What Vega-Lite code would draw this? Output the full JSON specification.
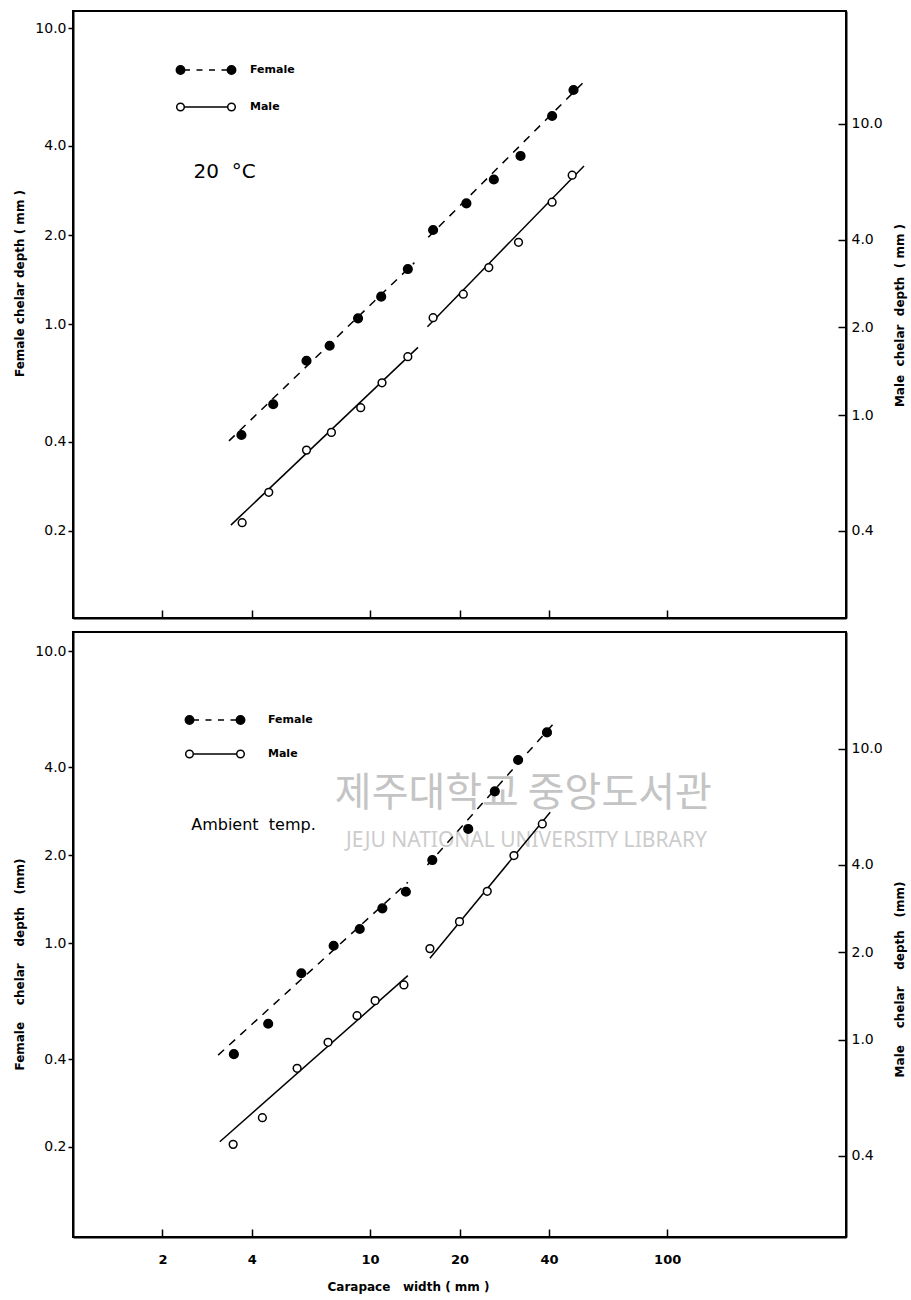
{
  "$schema": "https://vega.github.io/schema/vega-lite/v6.json",
  "background": "white",
  "padding": {"left": 12, "top": 10, "right": 5, "bottom": 5},
  "spacing": 11,
  "config": {
    "font": "DejaVu Sans",
    "view": {"stroke": "black", "strokeWidth": 2},
    "axis": {
      "grid": false,
      "domainColor": "black",
      "domainWidth": 2,
      "tickColor": "black",
      "tickWidth": 1.5,
      "labelColor": "black",
      "titleColor": "black",
      "labelFont": "DejaVu Sans",
      "titleFont": "DejaVu Sans"
    },
    "legend": {
      "labelFont": "DejaVu Sans",
      "labelFontWeight": "bold",
      "labelFontSize": 11,
      "labelColor": "black",
      "symbolStrokeColor": "black",
      "symbolStrokeWidth": 1.5,
      "symbolSize": 400,
      "padding": 0
    }
  },
  "datasets": {
    "points20": [
      {"sex": "Female", "cw": 3.69, "depth": 0.422},
      {"sex": "Female", "cw": 4.72, "depth": 0.536},
      {"sex": "Female", "cw": 6.11, "depth": 0.752},
      {"sex": "Female", "cw": 7.31, "depth": 0.845},
      {"sex": "Female", "cw": 9.11, "depth": 1.046},
      {"sex": "Female", "cw": 10.9, "depth": 1.238},
      {"sex": "Female", "cw": 13.4, "depth": 1.535},
      {"sex": "Female", "cw": 16.3, "depth": 2.08},
      {"sex": "Female", "cw": 21.1, "depth": 2.56},
      {"sex": "Female", "cw": 26.1, "depth": 3.08},
      {"sex": "Female", "cw": 32.1, "depth": 3.70},
      {"sex": "Female", "cw": 41.0, "depth": 5.05},
      {"sex": "Female", "cw": 48.4, "depth": 6.18},
      {"sex": "Male", "cw": 3.71, "depth": 0.427},
      {"sex": "Male", "cw": 4.56, "depth": 0.543},
      {"sex": "Male", "cw": 6.11, "depth": 0.758},
      {"sex": "Male", "cw": 7.41, "depth": 0.872},
      {"sex": "Male", "cw": 9.30, "depth": 1.06},
      {"sex": "Male", "cw": 10.97, "depth": 1.29},
      {"sex": "Male", "cw": 13.4, "depth": 1.586},
      {"sex": "Male", "cw": 16.3, "depth": 2.16},
      {"sex": "Male", "cw": 20.6, "depth": 2.60},
      {"sex": "Male", "cw": 25.1, "depth": 3.21},
      {"sex": "Male", "cw": 31.6, "depth": 3.92},
      {"sex": "Male", "cw": 41.0, "depth": 5.38},
      {"sex": "Male", "cw": 47.9, "depth": 6.66}
    ],
    "lines20": [
      {"sex": "Female", "stage": "juvenile", "cw": 3.35, "depth": 0.403},
      {"sex": "Female", "stage": "juvenile", "cw": 14.1, "depth": 1.613},
      {"sex": "Female", "stage": "adult", "cw": 15.7, "depth": 1.965},
      {"sex": "Female", "stage": "adult", "cw": 52.1, "depth": 6.54},
      {"sex": "Male", "stage": "juvenile", "cw": 3.40, "depth": 0.419},
      {"sex": "Male", "stage": "juvenile", "cw": 14.5, "depth": 1.708},
      {"sex": "Male", "stage": "adult", "cw": 15.6, "depth": 2.01},
      {"sex": "Male", "stage": "adult", "cw": 52.5, "depth": 7.17}
    ],
    "pointsAmb": [
      {"sex": "Female", "cw": 3.48, "depth": 0.416},
      {"sex": "Female", "cw": 4.54, "depth": 0.529},
      {"sex": "Female", "cw": 5.87, "depth": 0.788},
      {"sex": "Female", "cw": 7.54, "depth": 0.979},
      {"sex": "Female", "cw": 9.23, "depth": 1.117},
      {"sex": "Female", "cw": 11.0, "depth": 1.315},
      {"sex": "Female", "cw": 13.2, "depth": 1.499},
      {"sex": "Female", "cw": 16.2, "depth": 1.925},
      {"sex": "Female", "cw": 21.4, "depth": 2.46},
      {"sex": "Female", "cw": 26.3, "depth": 3.31},
      {"sex": "Female", "cw": 31.5, "depth": 4.24},
      {"sex": "Female", "cw": 39.4, "depth": 5.27},
      {"sex": "Male", "cw": 3.46, "depth": 0.438},
      {"sex": "Male", "cw": 4.34, "depth": 0.541},
      {"sex": "Male", "cw": 5.68, "depth": 0.799},
      {"sex": "Male", "cw": 7.22, "depth": 0.982},
      {"sex": "Male", "cw": 9.04, "depth": 1.212},
      {"sex": "Male", "cw": 10.4, "depth": 1.365},
      {"sex": "Male", "cw": 13.0, "depth": 1.545},
      {"sex": "Male", "cw": 15.9, "depth": 2.06},
      {"sex": "Male", "cw": 20.0, "depth": 2.55},
      {"sex": "Male", "cw": 24.8, "depth": 3.24},
      {"sex": "Male", "cw": 30.5, "depth": 4.30},
      {"sex": "Male", "cw": 38.0, "depth": 5.52}
    ],
    "linesAmb": [
      {"sex": "Female", "stage": "juvenile", "cw": 3.08, "depth": 0.413},
      {"sex": "Female", "stage": "juvenile", "cw": 13.4, "depth": 1.615},
      {"sex": "Female", "stage": "adult", "cw": 15.6, "depth": 1.85},
      {"sex": "Female", "stage": "adult", "cw": 42.1, "depth": 5.75},
      {"sex": "Male", "stage": "juvenile", "cw": 3.12, "depth": 0.447},
      {"sex": "Male", "stage": "juvenile", "cw": 13.4, "depth": 1.663},
      {"sex": "Male", "stage": "adult", "cw": 15.9, "depth": 1.909},
      {"sex": "Male", "stage": "adult", "cw": 40.4, "depth": 6.06}
    ]
  },
  "resolve": {
    "scale": {"fill": "independent", "shape": "independent"},
    "legend": {"fill": "independent", "shape": "independent"}
  },
  "vconcat": [
    {
      "width": 773,
      "height": 607,
      "layer": [
        {
          "layer": [
            {
              "encoding": {
                "x": {
                  "field": "cw", "type": "quantitative",
                  "scale": {"type": "log", "domain": [1, 400], "nice": false},
                  "axis": {"values": [2, 4, 10, 20, 40, 100], "labels": false, "tickSize": -8, "title": null}
                },
                "y": {
                  "field": "depth", "type": "quantitative",
                  "scale": {"type": "log", "domain": [0.1016, 11.43], "nice": false},
                  "axis": {
                    "orient": "left", "values": [0.2, 0.4, 1, 2, 4, 10], "format": ".1f",
                    "tickSize": 5, "labelPadding": 2, "labelFontSize": 14,
                    "title": "Female chelar depth\u00a0( mm )", "titleFontSize": 12, "titleFontWeight": "bold",
                    "titleX": -54, "titleY": 272, "titleAngle": 270, "titleAlign": "center", "titleBaseline": "middle"
                  }
                }
              },
              "layer": [
                {
                  "data": {"name": "lines20"},
                  "transform": [{"filter": "datum.sex === 'Female'"}],
                  "mark": {"type": "line", "color": "black", "strokeWidth": 1.5, "strokeDash": [8, 7]},
                  "encoding": {"detail": {"field": "stage"}}
                },
                {
                  "data": {"name": "points20"},
                  "transform": [{"filter": "datum.sex === 'Female'"}],
                  "mark": {"type": "point", "filled": true, "opacity": 1, "size": 75, "stroke": "black", "strokeWidth": 1.5},
                  "encoding": {
                    "fill": {"field": "sex", "type": "nominal", "scale": {"domain": ["Female", "Male"], "range": ["black", "white"]}}
                  }
                },
                {
                  "data": {"name": "points20"},
                  "transform": [{"filter": "false"}],
                  "mark": {"type": "point", "filled": true, "opacity": 1, "stroke": "black", "strokeWidth": 1.5},
                  "encoding": {
                    "fill": {
                      "field": "sex", "type": "nominal",
                      "scale": {"domain": ["Female", "Male"], "range": ["black", "white"]},
                      "legend": {"orient": "none", "legendX": 122, "legendY": 48, "title": null, "labelOffset": 33, "rowPadding": 18}
                    },
                    "shape": {
                      "field": "sex", "type": "nominal",
                      "scale": {"domain": ["Female", "Male"], "range": [
                        "M-2.97,0A0.42,0.42,0,1,0,-2.13,0A0.42,0.42,0,1,0,-2.97,0ZM2.13,0A0.42,0.42,0,1,0,2.97,0A0.42,0.42,0,1,0,2.13,0ZM-2.13,0L-1.6,0M-0.95,0L-0.35,0M0.3,0L0.9,0M1.55,0L2.13,0",
                        "M-2.93,0A0.38,0.38,0,1,0,-2.17,0A0.38,0.38,0,1,0,-2.93,0ZM2.17,0A0.38,0.38,0,1,0,2.93,0A0.38,0.38,0,1,0,2.17,0ZM-2.17,0L2.17,0"
                      ]},
                      "legend": {"orient": "none", "legendX": 122, "legendY": 48, "title": null, "labelOffset": 33, "rowPadding": 18}
                    }
                  }
                }
              ]
            },
            {
              "data": {"values": [{"note": "20\u00a0\u00a0°C"}]},
              "mark": {"type": "text", "align": "left", "baseline": "middle", "fontSize": 20, "font": "DejaVu Sans", "color": "black"},
              "encoding": {
                "x": {"datum": 2.544, "type": "quantitative", "scale": {"type": "log", "domain": [1, 400], "nice": false}},
                "y": {"datum": 3.27, "type": "quantitative", "scale": {"type": "log", "domain": [0.1016, 11.43], "nice": false}},
                "text": {"field": "note"}
              }
            }
          ]
        },
        {
          "encoding": {
            "x": {"field": "cw", "type": "quantitative", "scale": {"type": "log", "domain": [1, 400], "nice": false}},
            "y": {
              "field": "depth", "type": "quantitative",
              "scale": {"type": "log", "domain": [0.201, 24.4], "nice": false},
              "axis": {
                "orient": "right", "values": [0.4, 1, 2, 4, 10], "format": ".1f",
                "tickSize": -8, "labelPadding": 13, "labelFontSize": 14,
                "title": "Male\u00a0\u00a0chelar\u00a0\u00a0depth\u00a0\u00a0( mm )", "titleFontSize": 12, "titleFontWeight": "bold",
                "titleX": 53, "titleY": 304, "titleAngle": 270, "titleAlign": "center", "titleBaseline": "middle"
              }
            }
          },
          "layer": [
            {
              "data": {"name": "lines20"},
              "transform": [{"filter": "datum.sex === 'Male'"}],
              "mark": {"type": "line", "color": "black", "strokeWidth": 1.5},
              "encoding": {"detail": {"field": "stage"}}
            },
            {
              "data": {"name": "points20"},
              "transform": [{"filter": "datum.sex === 'Male'"}],
              "mark": {"type": "point", "filled": true, "opacity": 1, "size": 60, "stroke": "black", "strokeWidth": 1.5},
              "encoding": {
                "fill": {"field": "sex", "type": "nominal", "scale": {"domain": ["Female", "Male"], "range": ["black", "white"]}}
              }
            }
          ]
        }
      ],
      "resolve": {"scale": {"y": "independent"}, "axis": {"y": "independent"}}
    },
    {
      "width": 773,
      "height": 605,
      "layer": [
        {
          "layer": [
            {
              "data": {"values": [{"mark": "제주대학교 중앙도서관"}]},
              "mark": {"type": "text", "align": "center", "baseline": "middle", "fontSize": 40, "font": "Noto Sans CJK KR", "color": "#c4c4c4"},
              "encoding": {
                "x": {"datum": 32.8, "type": "quantitative", "scale": {"type": "log", "domain": [1, 400], "nice": false}},
                "y": {"datum": 3.24, "type": "quantitative", "scale": {"type": "log", "domain": [0.0983, 11.64], "nice": false}},
                "text": {"field": "mark"}
              }
            },
            {
              "data": {"values": [{"mark": "JEJU NATIONAL UNIVERSITY LIBRARY"}]},
              "mark": {"type": "text", "align": "center", "baseline": "middle", "fontSize": 21, "font": "Noto Sans", "color": "#cccccc"},
              "encoding": {
                "x": {"datum": 33.6, "type": "quantitative", "scale": {"type": "log", "domain": [1, 400], "nice": false}},
                "y": {"datum": 2.236, "type": "quantitative", "scale": {"type": "log", "domain": [0.0983, 11.64], "nice": false}},
                "text": {"field": "mark"}
              }
            },
            {
              "encoding": {
                "x": {
                  "field": "cw", "type": "quantitative",
                  "scale": {"type": "log", "domain": [1, 400], "nice": false},
                  "axis": {
                    "values": [2, 4, 10, 20, 40, 100], "format": "d", "tickSize": -8, "labelPadding": 24,
                    "labelFontSize": 13, "labelFontWeight": "bold",
                    "title": "Carapace\u00a0\u00a0\u00a0width\u00a0(\u00a0mm\u00a0)", "titleFontSize": 12, "titleFontWeight": "bold",
                    "titlePadding": 15, "titleX": 335
                  }
                },
                "y": {
                  "field": "depth", "type": "quantitative",
                  "scale": {"type": "log", "domain": [0.0983, 11.64], "nice": false},
                  "axis": {
                    "orient": "left", "values": [0.2, 0.4, 1, 2, 4, 10], "format": ".1f",
                    "tickSize": 5, "labelPadding": 2, "labelFontSize": 14,
                    "title": "Female\u00a0\u00a0\u00a0\u00a0chelar\u00a0\u00a0\u00a0\u00a0depth\u00a0\u00a0\u00a0(mm)", "titleFontSize": 12, "titleFontWeight": "bold",
                    "titleX": -54, "titleY": 332, "titleAngle": 270, "titleAlign": "center", "titleBaseline": "middle"
                  }
                }
              },
              "layer": [
                {
                  "data": {"name": "linesAmb"},
                  "transform": [{"filter": "datum.sex === 'Female'"}],
                  "mark": {"type": "line", "color": "black", "strokeWidth": 1.5, "strokeDash": [8, 7]},
                  "encoding": {"detail": {"field": "stage"}}
                },
                {
                  "data": {"name": "pointsAmb"},
                  "transform": [{"filter": "datum.sex === 'Female'"}],
                  "mark": {"type": "point", "filled": true, "opacity": 1, "size": 75, "stroke": "black", "strokeWidth": 1.5},
                  "encoding": {
                    "fill": {"field": "sex", "type": "nominal", "scale": {"domain": ["Female", "Male"], "range": ["black", "white"]}}
                  }
                },
                {
                  "data": {"name": "pointsAmb"},
                  "transform": [{"filter": "false"}],
                  "mark": {"type": "point", "filled": true, "opacity": 1, "stroke": "black", "strokeWidth": 1.5},
                  "encoding": {
                    "fill": {
                      "field": "sex", "type": "nominal",
                      "scale": {"domain": ["Female", "Male"], "range": ["black", "white"]},
                      "legend": {"orient": "none", "legendX": 131, "legendY": 77, "title": null, "labelOffset": 42, "rowPadding": 15}
                    },
                    "shape": {
                      "field": "sex", "type": "nominal",
                      "scale": {"domain": ["Female", "Male"], "range": [
                        "M-2.97,0A0.42,0.42,0,1,0,-2.13,0A0.42,0.42,0,1,0,-2.97,0ZM2.13,0A0.42,0.42,0,1,0,2.97,0A0.42,0.42,0,1,0,2.13,0ZM-2.13,0L-1.6,0M-0.95,0L-0.35,0M0.3,0L0.9,0M1.55,0L2.13,0",
                        "M-2.93,0A0.38,0.38,0,1,0,-2.17,0A0.38,0.38,0,1,0,-2.93,0ZM2.17,0A0.38,0.38,0,1,0,2.93,0A0.38,0.38,0,1,0,2.17,0ZM-2.17,0L2.17,0"
                      ]},
                      "legend": {"orient": "none", "legendX": 131, "legendY": 77, "title": null, "labelOffset": 42, "rowPadding": 15}
                    }
                  }
                }
              ]
            },
            {
              "data": {"values": [{"note": "Ambient\u00a0\u00a0temp."}]},
              "mark": {"type": "text", "align": "left", "baseline": "middle", "fontSize": 16, "font": "DejaVu Sans", "color": "black"},
              "encoding": {
                "x": {"datum": 2.5, "type": "quantitative", "scale": {"type": "log", "domain": [1, 400], "nice": false}},
                "y": {"datum": 2.54, "type": "quantitative", "scale": {"type": "log", "domain": [0.0983, 11.64], "nice": false}},
                "text": {"field": "note"}
              }
            }
          ]
        },
        {
          "encoding": {
            "x": {"field": "cw", "type": "quantitative", "scale": {"type": "log", "domain": [1, 400], "nice": false}},
            "y": {
              "field": "depth", "type": "quantitative",
              "scale": {"type": "log", "domain": [0.2105, 25.2], "nice": false},
              "axis": {
                "orient": "right", "values": [0.4, 1, 2, 4, 10], "format": ".1f",
                "tickSize": -8, "labelPadding": 13, "labelFontSize": 14,
                "title": "Male\u00a0\u00a0\u00a0\u00a0chelar\u00a0\u00a0\u00a0\u00a0depth\u00a0\u00a0\u00a0(mm)", "titleFontSize": 12, "titleFontWeight": "bold",
                "titleX": 53, "titleY": 347, "titleAngle": 270, "titleAlign": "center", "titleBaseline": "middle"
              }
            }
          },
          "layer": [
            {
              "data": {"name": "linesAmb"},
              "transform": [{"filter": "datum.sex === 'Male'"}],
              "mark": {"type": "line", "color": "black", "strokeWidth": 1.5},
              "encoding": {"detail": {"field": "stage"}}
            },
            {
              "data": {"name": "pointsAmb"},
              "transform": [{"filter": "datum.sex === 'Male'"}],
              "mark": {"type": "point", "filled": true, "opacity": 1, "size": 60, "stroke": "black", "strokeWidth": 1.5},
              "encoding": {
                "fill": {"field": "sex", "type": "nominal", "scale": {"domain": ["Female", "Male"], "range": ["black", "white"]}}
              }
            }
          ]
        }
      ],
      "resolve": {"scale": {"y": "independent"}, "axis": {"y": "independent"}}
    }
  ]
}
